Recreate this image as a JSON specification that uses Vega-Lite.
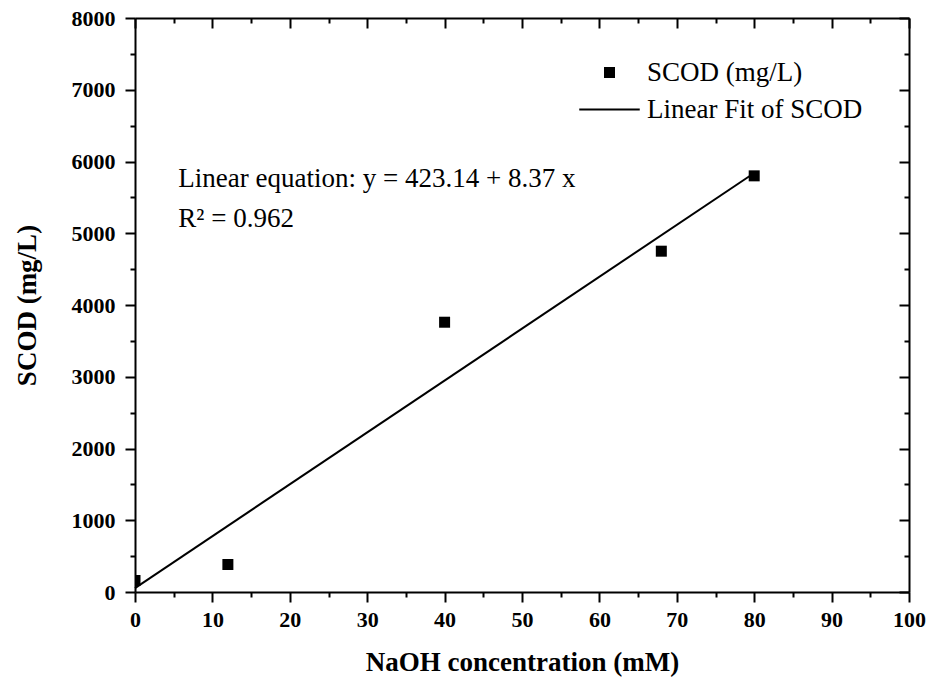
{
  "$schema": "https://vega.github.io/schema/vega-lite/v6.json",
  "width": 774,
  "height": 574,
  "autosize": {"type": "none"},
  "padding": {"left": 135, "top": 18, "right": 22, "bottom": 92},
  "background": "white",
  "config": {
    "view": {"stroke": null},
    "font": "Liberation Serif",
    "axis": {
      "labelFont": "Liberation Serif",
      "labelFontWeight": "bold",
      "labelFontSize": 22,
      "labelColor": "black",
      "titleFont": "Liberation Serif",
      "titleFontWeight": "bold",
      "titleFontSize": 27,
      "titleColor": "black",
      "domainColor": "black",
      "domainWidth": 2,
      "tickColor": "black",
      "tickWidth": 2,
      "grid": false
    }
  },
  "datasets": {
    "scod": [
      {"naoh": 0, "scod": 160, "series": "SCOD (mg/L)"},
      {"naoh": 12, "scod": 383, "series": "SCOD (mg/L)"},
      {"naoh": 40, "scod": 3760, "series": "SCOD (mg/L)"},
      {"naoh": 68, "scod": 4750, "series": "SCOD (mg/L)"},
      {"naoh": 80, "scod": 5800, "series": "SCOD (mg/L)"}
    ],
    "fit": [
      {"naoh": 0, "scod": 55},
      {"naoh": 80, "scod": 5840}
    ]
  },
  "resolve": {"axis": {"x": "independent", "y": "independent"}},
  "layer": [
    {
      "data": {"name": "scod"},
      "mark": {"type": "point", "filled": true, "size": 121, "color": "black", "opacity": 1, "clip": true},
      "encoding": {
        "x": {"field": "naoh", "type": "quantitative",
          "scale": {"domain": [0, 100], "nice": false},
          "axis": {"orient": "bottom", "title": "NaOH concentration (mM)", "values": [0,10,20,30,40,50,60,70,80,90,100],
            "tickSize": 10, "labelPadding": 7, "titlePadding": 19, "labelFlush": false, "labelOverlap": false}},
        "y": {"field": "scod", "type": "quantitative",
          "scale": {"domain": [0, 8000], "nice": false},
          "axis": {"orient": "left", "title": "SCOD (mg/L)", "values": [0,1000,2000,3000,4000,5000,6000,7000,8000],
            "tickSize": 10, "labelPadding": 10, "titlePadding": 30, "labelFlush": false, "labelOverlap": false, "format": "d"}},
        "shape": {"field": "series", "type": "nominal",
          "scale": {"domain": ["SCOD (mg/L)", "Linear Fit of SCOD"], "range": ["square", "M-5.5,-0.17H5.5V0.17H-5.5Z"]},
          "legend": {"title": null, "orient": "none", "legendX": 461, "legendY": 41, "padding": 0,
            "labelFont": "Liberation Serif", "labelFontSize": 27, "labelColor": "black", "labelFontWeight": "normal",
            "labelOffset": 24, "rowPadding": 9, "symbolSize": 121, "symbolFillColor": "black", "symbolStrokeColor": "black",
            "symbolStrokeWidth": 0, "symbolOpacity": 1, "labelLimit": 400,
            "encode": {"symbols": {"update": {"fill": {"value": "black"}, "opacity": {"value": 1}}}}}}
      }
    },
    {
      "data": {"name": "fit"},
      "mark": {"type": "line", "color": "black", "strokeWidth": 2},
      "encoding": {
        "x": {"field": "naoh", "type": "quantitative",
          "axis": {"orient": "bottom", "title": null, "values": [5,15,25,35,45,55,65,75,85,95], "labels": false, "domain": false, "tickSize": 5}},
        "y": {"field": "scod", "type": "quantitative",
          "axis": {"orient": "left", "title": null, "values": [500,1500,2500,3500,4500,5500,6500,7500], "labels": false, "domain": false, "tickSize": 5}}
      }
    },
    {
      "data": {"name": "scod"},
      "mark": {"type": "point", "opacity": 0},
      "encoding": {
        "x": {"field": "naoh", "type": "quantitative",
          "axis": {"orient": "top", "title": null, "values": [0,10,20,30,40,50,60,70,80,90,100], "labels": false, "tickSize": -10}},
        "y": {"field": "scod", "type": "quantitative",
          "axis": {"orient": "right", "title": null, "values": [0,1000,2000,3000,4000,5000,6000,7000,8000], "labels": false, "tickSize": -10}}
      }
    },
    {
      "data": {"name": "scod"},
      "mark": {"type": "point", "opacity": 0},
      "encoding": {
        "x": {"field": "naoh", "type": "quantitative",
          "axis": {"orient": "top", "title": null, "values": [5,15,25,35,45,55,65,75,85,95], "labels": false, "domain": false, "tickSize": -5}},
        "y": {"field": "scod", "type": "quantitative",
          "axis": {"orient": "right", "title": null, "values": [500,1500,2500,3500,4500,5500,6500,7500], "labels": false, "domain": false, "tickSize": -5}}
      }
    },
    {
      "data": {"values": [{"label": "Linear equation: y = 423.14 + 8.37 x"}]},
      "mark": {"type": "text", "align": "left", "baseline": "middle", "font": "Liberation Serif", "fontSize": 27, "color": "black"},
      "encoding": {
        "x": {"datum": 5.6, "type": "quantitative", "axis": null},
        "y": {"datum": 5760, "type": "quantitative", "axis": null},
        "text": {"field": "label"}
      }
    },
    {
      "data": {"values": [{"label": "R² = 0.962"}]},
      "mark": {"type": "text", "align": "left", "baseline": "middle", "font": "Liberation Serif", "fontSize": 27, "color": "black"},
      "encoding": {
        "x": {"datum": 5.6, "type": "quantitative", "axis": null},
        "y": {"datum": 5200, "type": "quantitative", "axis": null},
        "text": {"field": "label"}
      }
    }
  ]
}
